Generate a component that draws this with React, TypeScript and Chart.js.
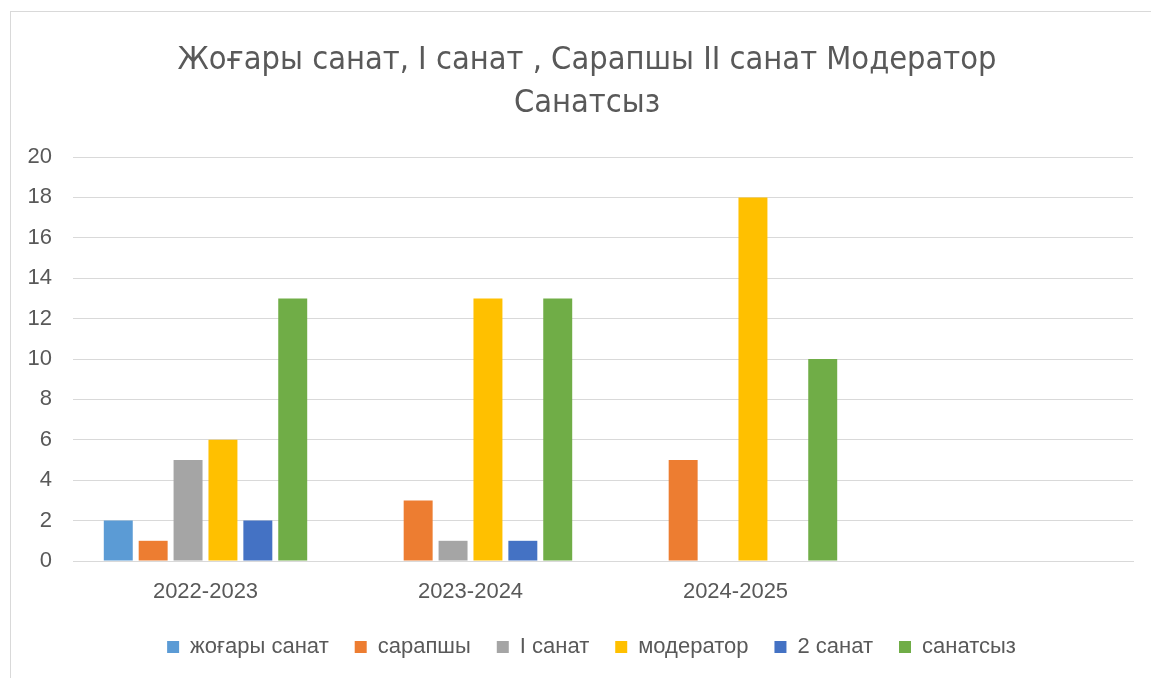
import React, { useEffect, useRef } from "react";
import { Chart, registerables } from "chart.js";

Chart.register(...registerables);

const categories = ["2022-2023", "2023-2024", "2024-2025", ""];
const seriesNames = ["жоғары санат", "сарапшы", "I санат", "модератор", "2 санат", "санатсыз"];
const zhogary = [2, null, null, null];
const sarapshy = [1, 3, 5, null];
const iSanat = [5, 1, null, null];
const moderator = [6, 13, 18, null];
const sanat2 = [2, 1, null, null];
const sanatsyz = [13, 13, 10, null];
const colors = ["#5B9BD5", "#ED7D31", "#A5A5A5", "#FFC000", "#4472C4", "#70AD47"];
const titleLines = ["Жоғары санат, I санат , Сарапшы II санат Модератор", "Санатсыз"];
const yTicks = { min: 0, max: 20, step: 2 };

const FONT = "'Liberation Sans', 'DejaVu Sans', sans-serif";
const TITLE_FONT = "32.3px 'Liberation Sans Narrow', 'DejaVu Sans Condensed', sans-serif";

const frame = {
  id: "frame",
  afterLayout(chart: any) {
    const lg = chart.legend;
    if (lg) {
      lg.left += 25;
      lg.right += 25;
    }
  },
  beforeDraw(chart: any) {
    const ctx = chart.ctx;
    ctx.save();
    ctx.fillStyle = "#ffffff";
    ctx.fillRect(0, 0, chart.width, chart.height);
    ctx.strokeStyle = "#d9d9d9";
    ctx.lineWidth = 1;
    ctx.strokeRect(10.5, 11.5, chart.width + 20, chart.height + 20);
    ctx.restore();
  },
  afterDraw(chart: any) {
    const ctx = chart.ctx;
    ctx.save();
    ctx.fillStyle = "#595959";
    ctx.font = TITLE_FONT;
    ctx.textAlign = "center";
    ctx.textBaseline = "alphabetic";
    ctx.fillText(titleLines[0], 587, 69);
    ctx.fillText(titleLines[1], 587, 112);
    ctx.restore();
  },
};

export default function App() {
  const ref = useRef<HTMLCanvasElement>(null);
  useEffect(() => {
    document.body.style.margin = "0";
    const values = [zhogary, sarapshy, iSanat, moderator, sanat2, sanatsyz];
    const chart = new Chart(ref.current!, {
      type: "bar",
      data: {
        labels: categories,
        datasets: seriesNames.map((n, i) => ({
          label: n,
          data: values[i],
          backgroundColor: colors[i],
          borderWidth: 0,
          categoryPercentage: 0.79,
          barPercentage: 0.83,
        })),
      },
      options: {
        animation: false,
        responsive: false,
        layout: { padding: { left: 0, right: 18, top: 157, bottom: 10 } },
        plugins: {
          title: { display: false },
          legend: {
            position: "bottom",
            labels: {
              color: "#595959",
              font: { family: FONT, size: 22 },
              boxWidth: 12,
              boxHeight: 12,
              padding: 26,
            },
          },
          tooltip: { enabled: false },
        },
        scales: {
          x: {
            afterFit(scale: any) {
              scale.height = 49;
            },
            grid: { display: false, drawTicks: false },
            border: { display: true, color: "#d9d9d9" },
            ticks: { color: "#595959", font: { family: FONT, size: 22 }, padding: 18 },
          },
          y: {
            min: yTicks.min,
            max: yTicks.max,
            afterFit(scale: any) {
              scale.width = 73;
            },
            grid: { color: "#d9d9d9", drawTicks: false },
            border: { display: false },
            ticks: { stepSize: yTicks.step, color: "#595959", font: { family: FONT, size: 22 }, padding: 21 },
          },
        },
      },
      plugins: [frame],
    });
    return () => chart.destroy();
  }, []);
  return (
    <div style={{ width: 1151, height: 678 }}>
      <canvas ref={ref} width={1151} height={678} />
    </div>
  );
}
